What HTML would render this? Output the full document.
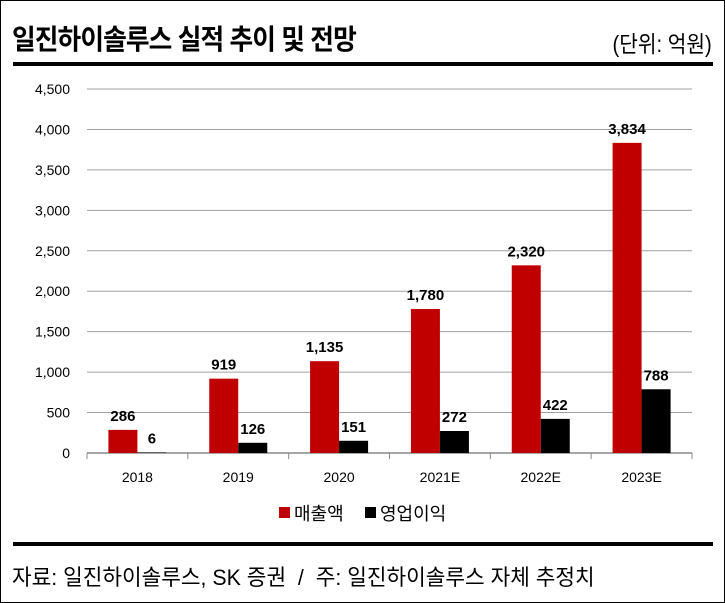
<!DOCTYPE html>
<html><head><meta charset="utf-8">
<style>
html,body{margin:0;padding:0;background:#fff;}
body{width:725px;height:603px;position:relative;overflow:hidden;font-family:"Liberation Sans","Noto Sans CJK KR",sans-serif;}
#frame{position:absolute;left:0;top:0;width:723px;height:601px;border:1px solid #000;}
#title{position:absolute;left:12px;top:18px;font-size:28px;font-weight:bold;letter-spacing:-1px;transform:scaleX(0.92);transform-origin:left;}
#unit{position:absolute;right:13px;top:25px;font-size:23px;transform:scaleX(0.88);transform-origin:right;}
.rule{position:absolute;left:13px;width:700px;height:4px;background:#000;}
#foot{position:absolute;left:12px;top:560px;font-size:22px;transform:scaleX(0.97);transform-origin:left;white-space:nowrap;}
</style></head><body>
<div id="frame"></div>
<div id="title">일진하이솔루스 실적 추이 및 전망</div>
<div id="unit">(단위: 억원)</div>
<div class="rule" style="top:62px"></div>
<div class="rule" style="top:542px"></div>
<div id="foot">자료: 일진하이솔루스, SK 증권 &nbsp;/ &nbsp;주: 일진하이솔루스 자체 추정치</div>
<svg id="chart" width="725" height="603" style="position:absolute;left:0;top:0"></svg>
<script>
const categories=["2018","2019","2020","2021E","2022E","2023E"];
const sales=[286,919,1135,1780,2320,3834];
const profit=[6,126,151,272,422,788];
const yTicks=[0,500,1000,1500,2000,2500,3000,3500,4000,4500];
const seriesNames=["매출액","영업이익"];
const svg=document.getElementById('chart');
const NS='http://www.w3.org/2000/svg';
const x0=87,x1=692,yBase=453,yTop=89,yMax=4500;
const bw=(x1-x0)/categories.length;
function y(v){return yBase-(v/yMax)*(yBase-yTop);}
function xc(i){return x0+bw*(i+0.5);}
function mk(t,a,txt){const e=document.createElementNS(NS,t);for(const k in a)e.setAttribute(k,a[k]);if(txt!==undefined)e.textContent=txt;svg.appendChild(e);return e;}
yTicks.forEach(v=>{
  if(v>0){const g=mk('line',{x1:x0,x2:x1,y1:y(v),y2:y(v),stroke:'#a0a0a0','stroke-width':1});
  
  }
  const t=mk('text',{x:70,y:y(v)+5,'text-anchor':'end','font-size':14,fill:'#000'},v.toLocaleString('en-US'));
  
  
});
const ax=mk('line',{x1:x0,x2:x1,y1:yBase,y2:yBase,stroke:'#888','stroke-width':1.5});


for(let i=0;i<=categories.length;i++){
  const tk=mk('line',{x1:x0+bw*i,x2:x0+bw*i,y1:yBase,y2:yBase+6,stroke:'#888','stroke-width':1});
  
  
}
const w=29;
categories.forEach((c,i)=>{
  const cx=xc(i);
  const r=mk('rect',{x:cx-w,y:y(sales[i]),width:w,height:yBase-y(sales[i]),fill:'#c00000'});
  
  
  const b=mk('rect',{x:cx,y:y(profit[i]),width:w,height:yBase-y(profit[i]),fill:'#000'});
  
  
  const l1=mk('text',{x:cx-w/2,y:y(sales[i])-9,'text-anchor':'middle','font-size':15,'font-weight':'bold'},sales[i].toLocaleString('en-US'));
  
  
  const l2=mk('text',{x:cx+w/2,y:y(profit[i])-9,'text-anchor':'middle','font-size':15,'font-weight':'bold'},profit[i].toLocaleString('en-US'));
  
  
  const xl=mk('text',{x:cx,y:482,'text-anchor':'middle','font-size':14},c);
  
  
});
const lg=[[279,'#c00000',seriesNames[0]],[365,'#000',seriesNames[1]]];
lg.forEach(([lx,col,name])=>{
  const s=mk('rect',{x:lx,y:507,width:11,height:11,fill:col});
  
  
  const t=mk('text',{x:lx+15,y:520,'font-size':18},name);
  
  
});
</script>
</body></html>
